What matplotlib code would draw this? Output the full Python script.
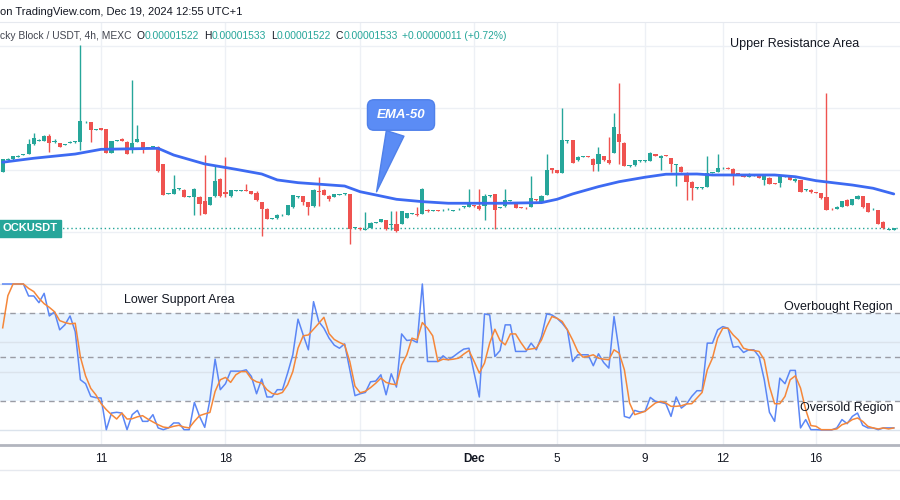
import matplotlib
matplotlib.use("Agg")
import matplotlib.pyplot as plt
from matplotlib.lines import Line2D

plt.rcParams['font.family'] = ['Liberation Sans', 'DejaVu Sans']

W, H = 900, 500
UP, DOWN = '#26a69a', '#ef5350'
TXT = '#131722'

# BLOCK/USDT 4h candles, prices in units of 1e-6 USDT
opens = [19.88, 20.83, 20.88, 21.10, 21.23, 21.34, 22.10, 22.40, 22.37, 22.75,
         22.32, 22.21, 22.05, 22.24, 22.26, 22.32, 23.86, 23.86, 23.24, 23.40,
         23.29, 21.42, 22.40, 22.56, 22.32, 21.64, 22.29, 22.29, 21.83, 21.86,
         21.91, 20.47, 18.09, 18.12, 18.47, 18.44, 17.85, 17.82, 17.82, 17.55,
         17.22, 17.90, 19.31, 18.28, 17.95, 18.33, 18.33, 18.44, 18.33, 18.17,
         17.44, 16.90, 16.08, 16.14, 16.36, 16.41, 17.01, 17.82, 17.93, 17.44,
         17.09, 18.36, 18.44, 17.95, 17.85, 18.01, 18.06, 18.09, 15.33, 15.38,
         15.22, 15.38, 15.76, 15.81, 15.98, 15.60, 15.70, 15.68, 16.19, 16.46,
         16.49, 16.49, 16.82, 16.71, 16.79, 16.76, 16.84, 16.73, 16.84, 17.01,
         17.03, 17.17, 17.14, 17.14, 17.90, 18.09, 16.95, 17.09, 17.55, 17.44,
         17.03, 16.98, 17.03, 17.66, 17.36, 18.04, 20.15, 19.99, 19.80, 22.40,
         22.45, 20.80, 21.07, 21.12, 20.93, 20.47, 21.15, 20.83, 21.42, 22.91,
         22.24, 20.34, 20.39, 20.72, 20.72, 20.75, 21.31, 20.96, 21.21, 20.96,
         20.45, 20.28, 19.80, 19.09, 18.55, 18.55, 18.66, 19.77, 19.88, 20.15,
         20.20, 20.12, 19.74, 19.69, 19.47, 19.55, 19.61, 19.20, 19.39, 18.96,
         18.98, 19.50, 19.53, 19.12, 19.20, 18.39, 18.44, 18.25, 18.17, 17.82,
         16.90, 16.87, 17.06, 17.63, 17.20, 17.68, 17.90, 17.36, 16.84, 16.76,
         15.84, 15.19, 15.22]
highs = [20.93, 20.99, 21.15, 21.20, 21.33, 22.56, 23.00, 22.50, 22.83, 22.89,
         22.51, 22.24, 22.13, 22.40, 22.35, 30.07, 23.95, 23.89, 23.32, 23.43,
         23.32, 22.40, 22.48, 22.59, 22.35, 27.30, 23.64, 22.32, 21.91, 21.97,
         21.94, 20.50, 18.20, 19.58, 18.55, 18.47, 17.93, 18.55, 17.90, 21.26,
         17.88, 20.39, 19.34, 21.04, 18.42, 18.42, 18.42, 18.93, 18.36, 18.36,
         17.47, 16.93, 16.17, 16.44, 16.44, 17.20, 18.04, 17.90, 17.96, 17.47,
         18.47, 19.47, 18.47, 17.98, 18.12, 18.09, 18.15, 18.12, 15.41, 15.41,
         16.60, 15.79, 15.84, 16.09, 16.00, 16.68, 16.68, 16.74, 16.57, 16.55,
         17.03, 18.55, 16.85, 16.79, 16.82, 16.85, 16.93, 16.82, 16.93, 17.09,
         18.52, 17.20, 18.52, 18.09, 17.98, 18.12, 17.03, 18.52, 17.63, 17.47,
         17.06, 17.01, 19.53, 17.68, 17.98, 21.29, 20.18, 20.02, 25.03, 22.48,
         22.48, 21.12, 21.15, 21.15, 20.96, 21.91, 21.18, 22.72, 24.62, 27.03,
         22.27, 20.42, 20.85, 20.80, 20.80, 21.45, 21.34, 21.21, 21.23, 20.99,
         20.53, 20.31, 19.83, 19.12, 18.63, 18.63, 21.15, 19.85, 21.29, 20.23,
         20.23, 20.15, 19.77, 19.72, 19.74, 19.63, 19.63, 19.55, 19.42, 18.98,
         19.55, 19.58, 19.55, 19.34, 19.23, 18.47, 18.47, 18.28, 18.20, 26.25,
         16.93, 17.09, 17.55, 17.66, 17.71, 17.98, 17.93, 17.39, 16.93, 16.79,
         15.87, 15.27, 15.33]
lows = [19.88, 20.80, 20.86, 21.08, 21.20, 21.29, 22.05, 22.37, 22.35, 21.48,
        22.24, 21.88, 22.02, 22.21, 22.24, 21.64, 23.83, 22.29, 23.21, 23.21,
        21.40, 21.40, 22.37, 22.34, 21.31, 21.40, 22.26, 21.40, 21.80, 21.83,
        19.85, 18.00, 18.06, 18.09, 18.44, 17.82, 17.82, 16.41, 16.41, 16.46,
        17.20, 17.87, 17.87, 17.85, 17.85, 18.31, 18.31, 18.33, 18.09, 17.55,
        14.73, 16.05, 16.05, 16.11, 16.33, 16.38, 16.98, 17.80, 17.20, 16.41,
        17.06, 17.09, 18.01, 17.49, 17.82, 17.98, 18.04, 14.02, 15.30, 15.22,
        15.19, 15.35, 15.73, 15.79, 15.22, 15.19, 15.05, 15.65, 16.16, 16.44,
        16.33, 16.46, 16.65, 16.68, 16.71, 16.73, 16.82, 16.71, 16.82, 16.98,
        17.00, 17.06, 16.82, 15.95, 17.87, 15.24, 16.93, 17.06, 17.52, 16.93,
        16.95, 16.90, 17.00, 17.55, 17.33, 18.01, 19.74, 19.77, 19.77, 22.24,
        20.58, 20.77, 21.04, 21.04, 19.93, 19.93, 20.77, 20.53, 21.40, 20.47,
        20.31, 20.26, 20.37, 20.69, 20.69, 20.72, 21.15, 19.99, 21.12, 19.88,
        18.77, 19.85, 17.57, 17.57, 18.52, 18.52, 18.63, 19.74, 19.85, 20.12,
        20.10, 18.79, 19.63, 19.45, 19.45, 19.53, 19.37, 18.79, 18.90, 18.88,
        18.66, 19.47, 19.23, 19.09, 18.25, 18.36, 18.20, 18.17, 17.71, 16.76,
        16.82, 16.84, 17.03, 17.11, 17.17, 17.66, 16.98, 16.63, 16.82, 15.65,
        15.30, 15.16, 15.22]
closes = [20.88, 20.94, 21.12, 21.18, 21.31, 22.15, 22.59, 22.45, 22.78, 22.24,
          22.40, 21.91, 22.10, 22.32, 22.32, 23.97, 23.92, 23.24, 23.29, 23.24,
          21.42, 22.37, 22.45, 22.37, 21.34, 22.24, 22.51, 21.83, 21.88, 21.94,
          19.93, 18.04, 18.17, 18.52, 18.52, 17.85, 17.90, 18.52, 17.30, 16.49,
          17.85, 19.15, 17.90, 18.12, 18.39, 18.39, 18.39, 18.36, 18.12, 17.57,
          16.90, 16.08, 16.14, 16.41, 16.41, 17.17, 18.01, 17.87, 17.41, 17.01,
          18.44, 18.23, 18.04, 17.68, 18.09, 18.06, 18.12, 15.24, 15.38, 15.24,
          15.27, 15.76, 15.81, 16.06, 15.24, 15.68, 15.08, 16.71, 16.54, 16.52,
          16.36, 18.52, 16.68, 16.76, 16.73, 16.82, 16.90, 16.79, 16.90, 17.06,
          17.36, 17.09, 16.84, 17.95, 17.95, 16.79, 17.01, 17.60, 17.60, 16.95,
          16.98, 16.92, 17.76, 17.57, 17.95, 19.99, 19.99, 19.80, 22.45, 22.45,
          20.61, 21.10, 21.12, 21.07, 20.39, 21.29, 20.80, 20.56, 23.46, 22.32,
          20.34, 20.39, 20.83, 20.77, 20.77, 21.42, 21.18, 21.18, 21.15, 20.47,
          20.50, 19.88, 19.04, 18.58, 18.60, 18.60, 19.80, 19.82, 20.18, 20.20,
          20.12, 19.61, 19.66, 19.47, 19.72, 19.61, 19.39, 19.53, 18.93, 18.90,
          19.53, 19.55, 19.25, 19.31, 18.28, 18.44, 18.23, 18.20, 17.74, 16.79,
          16.84, 17.06, 17.52, 17.14, 17.68, 17.95, 17.01, 16.65, 16.90, 15.68,
          15.33, 15.24, 15.33]

# EMA-50 read at sample bars
ema_bars = [0, 6, 14, 19, 30, 33, 39, 45, 50, 53, 57, 66, 69, 72, 76, 81, 86,
            90, 96, 104, 107, 110, 115, 119, 124, 128, 134, 137, 141, 149, 153,
            157, 164, 168, 172]
ema_vals = [20.65, 20.97, 21.31, 21.69, 21.77, 21.23, 20.51, 20.08, 19.70,
            19.22, 19.00, 18.73, 18.27, 18.01, 17.66, 17.47, 17.34, 17.34,
            17.34, 17.39, 17.66, 18.09, 18.68, 19.08, 19.44, 19.68, 19.70,
            19.62, 19.62, 19.62, 19.48, 19.16, 18.81, 18.55, 18.09]

# Stochastic RSI, one value per bar
stoch_k = [100, 100, 100, 100, 100, 91.8, 91.8, 87.2, 93.6, 78.1,
           80.9, 68.6, 72, 78.1, 67.4, 34.4, 31.7, 23, 22.1, 21.9,
           0.2, 11.6, 12.1, 11.6, 0.2, 10.5, 13.4, 5.9, 5.9, 10.5,
           1.4, 0.2, 1.4, 4.8, 4.8, 0.2, 0.2, 18.9, 9.3, 1.8,
           20.7, 48.5, 27.6, 31.7, 40.3, 40.3, 40.3, 41.2, 36.7, 24.8,
           34.9, 22.6, 22.6, 27.6, 27.6, 39, 51.5, 75.9, 65.1, 54.9,
           87.9, 74.3, 69.7, 62.9, 58.1, 56, 59, 41.2, 23.5, 24.8,
           25.7, 33, 33.5, 37.8, 24.1, 38.5, 29.4, 65.8, 61.3, 61.7,
           59.9, 100, 46.9, 46.9, 46.9, 50.8, 48.1, 50.3, 53, 55.4,
           56, 39, 22.6, 79.5, 78.8, 50.3, 54.4, 72, 72, 53.8,
           53.8, 53.8, 59.5, 54.9, 64, 79.5, 78.8, 76.5, 73.1, 68.6,
           46.9, 51.5, 51.5, 51.5, 44, 52.2, 46.2, 42.4, 77.7, 53.8,
           9.3, 8.2, 13.4, 12.3, 12.8, 22.3, 19.6, 18.9, 18, 9.3,
           22.6, 15, 17.8, 23, 26.9, 26.9, 59.5, 59.5, 68.6, 70.8,
           69.7, 56.7, 57.2, 53.1, 54.9, 54.9, 50.3, 34.4, 12.1, 5.9,
           35.5, 31.7, 40.8, 40.8, 1.4, 7.1, 0.2, 0.2, 0, 0,
           0, 1.4, 7.1, 4.3, 9.3, 11.6, 3.2, 1.4, 1.4, 0.2,
           1.4, 1.4, 1.4]
stoch_d = [70, 92, 100, 100, 100, 97, 94.8, 90.2, 86.5, 84,
           81, 74.9, 73.6, 72.7, 73.1, 50, 37, 28.5, 24, 18,
           13.9, 10.5, 7.5, 11.6, 7.5, 7.7, 9, 9.8, 7.5, 5.5,
           3.6, 2, 1.5, 2.5, 3.2, 2, 1.4, 5.9, 9.8, 11,
           12, 26.4, 34.4, 36, 32.6, 37.8, 40, 40, 35, 33,
           32.1, 27.6, 25, 24.4, 25.7, 31, 40, 56, 64.5, 65.1,
           69, 73, 77.2, 66, 62, 60, 58.3, 46.9, 30, 25.5,
           26.5, 29, 32, 35.5, 32.6, 31.5, 31, 44.6, 51.5, 62.9,
           61.7, 73.6, 69.7, 64.5, 46.9, 48.5, 48.1, 48.5, 49.2, 52,
           54.4, 47, 39, 45.8, 59.5, 69, 61.3, 58.3, 65.8, 65.8,
           60, 55, 55.5, 56, 61.7, 70.8, 77.7, 76.5, 74.3, 68.6,
           61.7, 53.8, 49.9, 50.5, 51.5, 49.2, 48.5, 48.1, 54.9, 52.6,
           41.2, 18.5, 10.5, 11.6, 12.8, 15.7, 18.5, 19.6, 18.5, 16.2,
           16.2, 16.6, 17.8, 18, 21.9, 25.7, 41.2, 49.2, 62.9, 69.7,
           69.7, 65.1, 61.7, 56, 54.9, 54.4, 53.8, 48.1, 29.8, 18,
           18, 23, 34.4, 37.1, 28.7, 13.9, 3, 2.5, 0.2, 0.2,
           0.2, 0.7, 3.6, 4.8, 7.1, 8.2, 5.9, 2.5, 1.4, 0.7,
           1.4, 0.7, 1.4]

tick_bars = [19, 43, 69, 91, 107, 124, 139, 157]
tick_labels = ['11', '18', '25', 'Dec', '5', '9', '12', '16']
price_grid = [15, 20, 25, 30]
last_price = 15.33

fig = plt.figure(figsize=(9, 5), dpi=100)


def px_axes(top, bottom):
    a = fig.add_axes([0, 1 - bottom / H, 1, (bottom - top) / H])
    for s in a.spines.values():
        s.set_visible(False)
    a.set_xlim(-0.52, 173.2)
    a.set_yticks([])
    return a


ax = px_axes(22, 264)
ax2 = px_axes(264, 445)

# ---- price pane
ax.set_ylim(12.44, 31.96)
ax.set_xticks([])
for b in tick_bars:
    ax.axvline(b, color='#edf0f5', lw=1, zorder=0)
for p in price_grid:
    ax.axhline(p, color='#edf0f5', lw=1, zorder=0)
ax.spines['top'].set_visible(True)
ax.spines['top'].set_color('#e6e9ef')

bars = list(range(len(opens)))
colors = [UP if c >= o else DOWN for o, c in zip(opens, closes)]
ax.vlines(bars, lows, highs, colors=colors, lw=1, zorder=2)
ax.bar(bars, [max(abs(c - o), 0.07) for o, c in zip(opens, closes)],
       bottom=[min(o, c) for o, c in zip(opens, closes)],
       width=0.8, color=colors, linewidth=0, zorder=3)

ax.plot(ema_bars, ema_vals, color='#3d6af2', lw=2, zorder=4,
        solid_capstyle='round', solid_joinstyle='round')

ax.axhline(last_price, color=UP, lw=1, ls=(0, (1, 2)), zorder=1)
ax.text(0.003, last_price, 'OCKUSDT', transform=ax.get_yaxis_transform(),
        color='white', fontsize=8, fontweight='bold', va='center', ha='left',
        bbox=dict(boxstyle='square,pad=0.3', fc=UP, ec=UP), zorder=6)

ax.annotate('EMA-50', xy=(72, 18.05), xytext=(401, H - 115),
            textcoords='figure pixels', ha='center', va='center',
            color='white', fontsize=9.5, fontweight='bold', style='italic',
            bbox=dict(boxstyle='round,pad=0.7,rounding_size=0.5',
                      fc='#5b8cf5', ec='#4f80ea', lw=1),
            arrowprops=dict(arrowstyle='wedge,tail_width=1.4,shrink_factor=0.5',
                            fc='#5b8cf5', ec='#4f80ea', lw=1),
            zorder=7)

ax.text(795 / W, 1 - 44 / H, 'Upper Resistance Area', transform=fig.transFigure,
        ha='center', va='center', fontsize=9, color=TXT)

# ---- stochastic RSI pane
ax2.set_ylim(-10.3, 113.7)
for b in tick_bars:
    ax2.axvline(b, color='#edf0f5', lw=1, zorder=0)
ax2.axhspan(20, 80, color='#e8f3fd', zorder=0, lw=0)
for lvl in [0, 40, 60, 100]:
    ax2.axhline(lvl, color='#dbe3ec', lw=1, zorder=1)
for lvl in [20, 50, 80]:
    ax2.axhline(lvl, color='#9a9ca5', lw=1, ls=(0, (4, 3)), zorder=1)
ax2.plot(bars, stoch_k, color='#5b86f5', lw=1.1, zorder=3)
ax2.plot(bars, stoch_d, color='#f5873a', lw=1.1, zorder=3)

ax2.spines['bottom'].set_visible(True)
ax2.spines['bottom'].set_color('#b2b5be')
ax2.spines['bottom'].set_linewidth(2)
ax2.set_xticks(tick_bars, tick_labels)
ax2.tick_params(axis='x', length=0, pad=6, labelsize=8.5, labelcolor=TXT)
ax2.get_xticklabels()[3].set_fontweight('bold')

fig.text(124 / W, 1 - 300 / H, 'Lower Support Area', ha='left', va='center',
         fontsize=9, color=TXT)
fig.text(893 / W, 1 - 307 / H, 'Overbought Region', ha='right', va='center',
         fontsize=9, color=TXT)
fig.text(893 / W, 1 - 408 / H, 'Oversold Region', ha='right', va='center',
         fontsize=9, color=TXT)

fig.add_artist(Line2D([0, 1], [1 - 470 / H] * 2, color='#e6e9ef', lw=1,
                      transform=fig.transFigure))

# ---- header
fig.text(0, 1 - 12 / H, 'on TradingView.com, Dec 19, 2024 12:55 UTC+1',
         ha='left', va='center', fontsize=8, color=TXT)
header = [('cky Block / USDT, 4h, MEXC', '#434651', 5),
          ('O', TXT, 0), ('0.00001522', UP, 5),
          ('H', TXT, 0), ('0.00001533', UP, 5),
          ('L', TXT, 0), ('0.00001522', UP, 5),
          ('C', TXT, 0), ('0.00001533', UP, 5),
          ('+0.00000011 (+0.72%)', UP, 0)]
renderer = fig.canvas.get_renderer()
x = 0
for s, c, gap in header:
    t = fig.text(x / W, 1 - 36 / H, s, ha='left', va='center', fontsize=7.4,
                 color=c)
    x += t.get_window_extent(renderer).width + gap

fig.savefig('out.png', dpi=100, facecolor='white')
